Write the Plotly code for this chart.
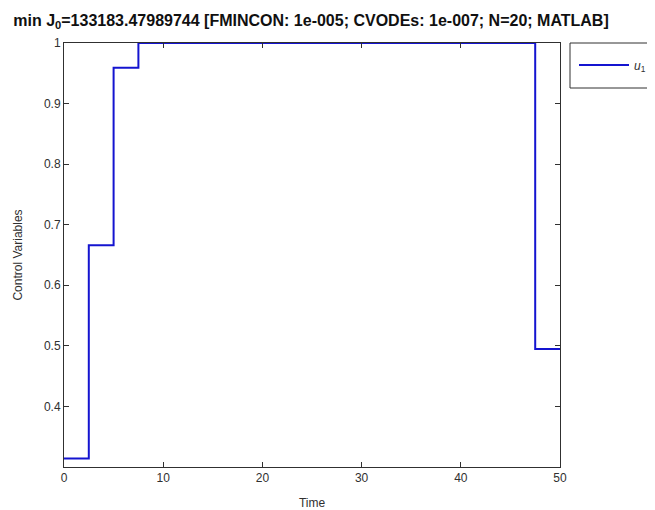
import plotly.graph_objects as go

# stage boundaries (N=20 intervals over 0..50)
time_nodes = [0, 2.5, 5, 7.5, 10, 12.5, 15, 17.5, 20, 22.5, 25, 27.5, 30,
              32.5, 35, 37.5, 40, 42.5, 45, 47.5, 50]
# control value on each interval (last value repeated for the stair end)
u1_values = [0.314, 0.666, 0.959, 1, 1, 1, 1, 1, 1, 1, 1, 1, 1, 1, 1, 1, 1,
             1, 1, 0.495, 0.495]

x_ticks = [0, 10, 20, 30, 40, 50]
y_ticks = [0.4, 0.5, 0.6, 0.7, 0.8, 0.9, 1]
y_tick_text = ["0.4", "0.5", "0.6", "0.7", "0.8", "0.9", "1"]

font_family = "Liberation Sans, Arial, sans-serif"
# page body has an 8px margin, so the figure is placed 8px in from the window
W, H = 647, 502
L, R, T, B = 56, 95, 35, 43
pw = W - L - R
ph = H - T - B

fig = go.Figure()
fig.add_trace(go.Scatter(
    x=time_nodes, y=u1_values, mode="lines", line_shape="hv",
    line=dict(color="#1414d0", width=2),
    name="<i>u</i><sub>1</sub>", cliponaxis=True,
))

axis_common = dict(
    showline=True, linecolor="#303030", linewidth=1, mirror="ticks",
    ticks="inside", ticklen=5, tickcolor="#303030", showgrid=False,
    zeroline=False, automargin=False,
    tickfont=dict(family=font_family, size=12, color="#303030"),
)

# legend frame (MATLAB-style box)
fig.add_shape(type="rect", xref="paper", yref="paper",
              x0=(562 - L) / pw, x1=(652 - L) / pw,
              y0=1 + (T - 80) / ph, y1=1,
              line=dict(color="#303030", width=1), fillcolor="white", layer="below")

fig.update_layout(
    width=W, height=H,
    margin=dict(l=L, r=R, t=T, b=B, autoexpand=False),
    paper_bgcolor="white", plot_bgcolor="white",
    title=dict(
        text="<b>min J<sub>0</sub>=133183.47989744 [FMINCON: 1e-005; CVODEs: 1e-007; N=20; MATLAB]</b>",
        x=303 / W, xanchor="center", y=1 - 12 / H, yanchor="middle",
        font=dict(family=font_family, size=16, color="#101010"), automargin=False,
    ),
    xaxis=dict(range=[0, 50], tickvals=x_ticks,
               title=dict(text="Time", standoff=16,
                          font=dict(family=font_family, size=12, color="#303030")),
               **axis_common),
    yaxis=dict(range=[0.3, 1], tickvals=y_ticks, ticktext=y_tick_text,
               title=dict(text="Control Variables", standoff=18,
                          font=dict(family=font_family, size=12, color="#303030")),
               **axis_common),
    showlegend=True,
    legend=dict(x=(566 - L) / pw, y=1 + (T - 57) / ph, xanchor="left", yanchor="middle",
                borderwidth=0, bgcolor="rgba(0,0,0,0)",
                font=dict(family=font_family, size=12, color="#303030"),
                itemwidth=50, tracegroupgap=0),
)

fig.write_html("out.html")
